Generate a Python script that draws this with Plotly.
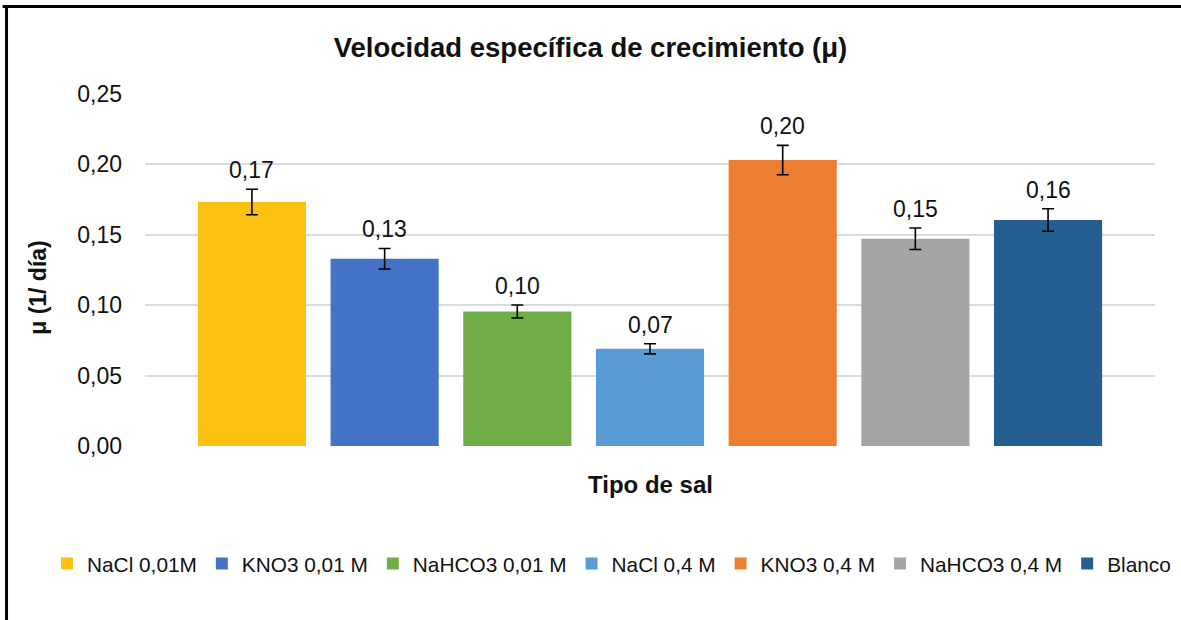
import plotly.graph_objects as go

categories = ["NaCl 0,01M", "KNO3 0,01 M", "NaHCO3 0,01 M", "NaCl 0,4 M",
              "KNO3 0,4 M", "NaHCO3 0,4 M", "Blanco"]
mu_values = [0.1733, 0.1330, 0.0955, 0.0690, 0.2031, 0.1472, 0.1605]
mu_errors = [0.0091, 0.0073, 0.0046, 0.0036, 0.0104, 0.0076, 0.0080]
colors = ["#FBC010", "#4472C4", "#70AD47", "#5B9BD5", "#ED7D31", "#A5A5A5", "#255E91"]
y_ticks = [0.0, 0.05, 0.10, 0.15, 0.20, 0.25]

FONT = "Liberation Sans, Arial, sans-serif"
TXT = "#111111"

fig = go.Figure()
for i, (cat, v, e, c) in enumerate(zip(categories, mu_values, mu_errors, colors)):
    fig.add_trace(go.Bar(
        x=[i], y=[v], name=cat, width=0.815,
        marker=dict(color=c, line=dict(width=0)),
        error_y=dict(type="data", array=[e], visible=True, color="#000000",
                     thickness=1.6, width=6),
        hoverinfo="skip",
    ))

# data labels above the error bars
for i, (v, e) in enumerate(zip(mu_values, mu_errors)):
    fig.add_annotation(
        x=i, y=v + e, xref="x", yref="y",
        text=f"{v:.2f}".replace(".", ","), showarrow=False,
        yanchor="bottom", yshift=4,
        font=dict(family=FONT, size=23, color=TXT),
    )

# axis titles
fig.add_annotation(x=-0.106, y=0.452, xref="paper", yref="paper",
                   text="<b>μ (1/ día)</b>", textangle=-90, showarrow=False,
                   xanchor="center", yanchor="middle",
                   font=dict(family=FONT, size=23, color=TXT))
fig.add_annotation(x=0.5, y=-0.109, xref="paper", yref="paper",
                   text="<b>Tipo de sal</b>", showarrow=False,
                   xanchor="center", yanchor="middle",
                   font=dict(family=FONT, size=24, color=TXT))

# outer frame lines (top and left) as in the reference crop
fig.add_shape(type="line", xref="paper", yref="paper", x0=-0.141, x1=1.2,
              y0=1.2486, y1=1.2486, line=dict(color="#000000", width=3))
fig.add_shape(type="line", xref="paper", yref="paper", x0=-0.1371, x1=-0.1371,
              y0=1.2486, y1=-0.6, line=dict(color="#000000", width=3))

fig.update_layout(
    width=1181, height=620,
    margin=dict(l=145, r=26, t=94, b=174),
    paper_bgcolor="white", plot_bgcolor="white",
    separators=",.",
    font=dict(family=FONT, color=TXT, size=21),
    title=dict(text="<b>Velocidad específica de crecimiento (μ)</b>",
               x=0.5, xanchor="center", y=0.924, yanchor="middle",
               font=dict(family=FONT, size=27.5, color=TXT)),
    barmode="overlay",
    showlegend=True,
    legend=dict(orientation="h", x=-0.097, xanchor="left", y=-0.335, yanchor="middle",
                font=dict(family=FONT, size=20.8, color=TXT),
                itemwidth=30, tracegroupgap=0, bgcolor="rgba(0,0,0,0)"),
    xaxis=dict(range=[-0.806, 6.806], showticklabels=False, showgrid=False,
               zeroline=False, showline=False, ticks=""),
    yaxis=dict(range=[0, 0.25], tickvals=y_ticks, tickformat=".2f",
               showgrid=True, gridcolor="#D9DCE1", gridwidth=1.5,
               zeroline=False, showline=False, ticks="", ticklabelstandoff=22,
               tickfont=dict(family=FONT, size=23, color=TXT)),
)
fig.write_html("out.html", config={"displayModeBar": False},
               post_script="document.body.style.margin='0px';")
